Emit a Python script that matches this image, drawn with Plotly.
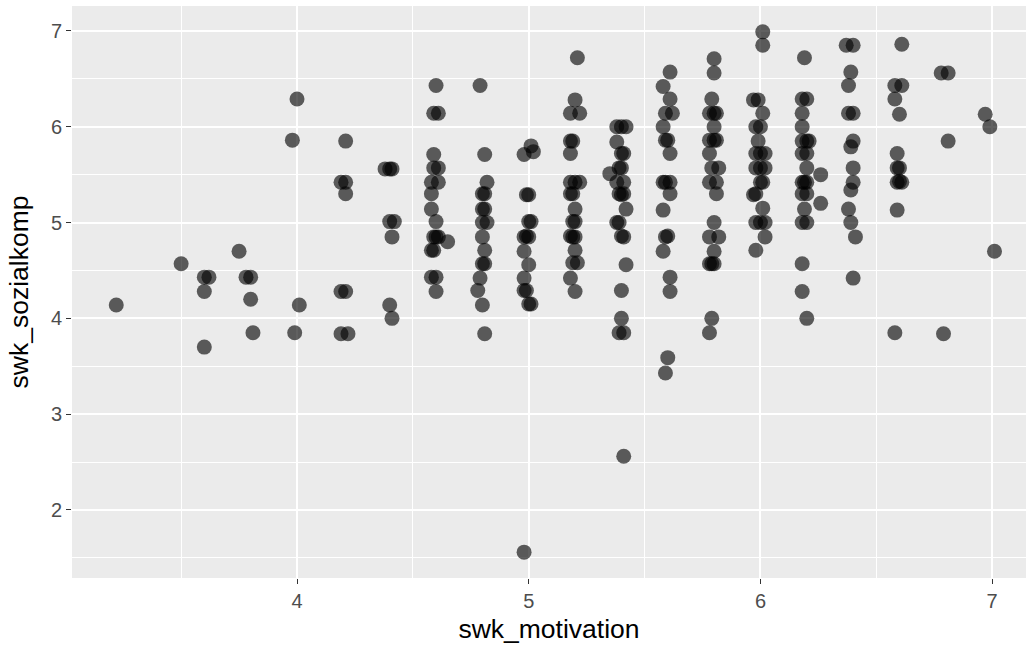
import plotly.graph_objects as go

# swk_motivation (jittered) values
motivation = [
    3.22, 3.50, 3.75, 3.60, 3.62, 3.78, 3.80, 3.60, 3.80, 3.81, 3.60,
    4.00, 3.98, 4.01, 3.99,
    4.21, 4.19, 4.21, 4.21, 4.19, 4.21, 4.19, 4.22,
    4.38, 4.40, 4.41, 4.40, 4.42, 4.41, 4.40, 4.41,
    4.60, 4.59, 4.61, 4.59, 4.59, 4.61, 4.58, 4.61, 4.58, 4.58, 4.60, 4.59, 4.61, 4.60,
    4.65, 4.58, 4.59, 4.58, 4.60, 4.60,
    4.79, 4.81, 4.82, 4.80, 4.81, 4.80, 4.81, 4.80, 4.82, 4.80, 4.81, 4.80, 4.81, 4.79,
    4.78, 4.80, 4.81,
    4.98, 5.01, 5.02, 4.99, 5.00, 5.00, 5.01, 4.98, 4.99, 5.00, 4.98, 5.00, 4.98, 4.98,
    4.99, 5.00, 5.01, 4.98,
    5.21, 5.20, 5.18, 5.22, 5.18, 5.19, 5.18, 5.18, 5.20, 5.22, 5.19, 5.18, 5.20, 5.19,
    5.20, 5.19, 5.18, 5.20, 5.20, 5.19, 5.21, 5.18, 5.20,
    5.38, 5.40, 5.42, 5.38, 5.40, 5.41, 5.39, 5.40, 5.35, 5.38, 5.41, 5.39, 5.40, 5.41,
    5.42, 5.38, 5.39, 5.41, 5.40, 5.42, 5.40, 5.40, 5.39, 5.41, 5.41,
    5.61, 5.58, 5.61, 5.59, 5.62, 5.58, 5.59, 5.60, 5.61, 5.58, 5.59, 5.61, 5.61, 5.58,
    5.59, 5.60, 5.58, 5.61, 5.61, 5.60, 5.59,
    5.80, 5.80, 5.79, 5.78, 5.80, 5.81, 5.80, 5.78, 5.80, 5.81, 5.78, 5.79, 5.82, 5.78,
    5.81, 5.81, 5.80, 5.78, 5.82, 5.80, 5.78, 5.79, 5.80, 5.79, 5.78,
    6.01, 6.01, 5.97, 5.99, 6.01, 5.98, 6.00, 5.99, 5.98, 6.00, 6.02, 5.98, 6.00, 6.02,
    6.00, 6.01, 5.97, 5.98, 6.01, 5.98, 6.00, 6.02, 6.02, 5.98,
    6.19, 6.18, 6.20, 6.18, 6.18, 6.18, 6.20, 6.21, 6.18, 6.20, 6.20, 6.26, 6.18, 6.19,
    6.20, 6.18, 6.20, 6.26, 6.19, 6.18, 6.20, 6.18, 6.18, 6.20,
    6.37, 6.40, 6.39, 6.38, 6.38, 6.40, 6.40, 6.39, 6.40, 6.40, 6.39, 6.38, 6.39, 6.41, 6.40,
    6.61, 6.58, 6.61, 6.58, 6.60, 6.59, 6.59, 6.60, 6.59, 6.61, 6.60, 6.59, 6.58,
    6.78, 6.81, 6.81, 6.79,
    6.97, 6.99, 7.01,
]

# swk_sozialkomp (jittered) values
sozialkomp = [
    4.14, 4.57, 4.70, 4.43, 4.43, 4.43, 4.43, 4.28, 4.20, 3.85, 3.70,
    6.29, 5.86, 4.14, 3.85,
    5.85, 5.42, 5.42, 5.30, 4.28, 4.28, 3.84, 3.84,
    5.56, 5.56, 5.56, 5.01, 5.01, 4.85, 4.14, 4.00,
    6.43, 6.14, 6.14, 5.71, 5.57, 5.57, 5.42, 5.42, 5.30, 5.14, 5.01, 4.85, 4.85, 4.85,
    4.80, 4.71, 4.71, 4.43, 4.43, 4.28,
    6.43, 5.71, 5.42, 5.30, 5.30, 5.14, 5.14, 5.00, 5.00, 4.85, 4.71, 4.57, 4.57, 4.42,
    4.29, 4.14, 3.84,
    5.71, 5.80, 5.74, 5.29, 5.29, 5.01, 5.01, 4.85, 4.86, 4.85, 4.70, 4.56, 4.42, 4.29,
    4.29, 4.15, 4.15, 1.56,
    6.72, 6.28, 6.14, 6.14, 5.85, 5.85, 5.72, 5.42, 5.42, 5.42, 5.30, 5.30, 5.14, 5.01,
    5.01, 4.85, 4.86, 4.85, 4.71, 4.58, 4.58, 4.42, 4.28,
    6.00, 6.00, 6.00, 5.84, 5.72, 5.72, 5.57, 5.57, 5.51, 5.42, 5.42, 5.30, 5.29, 5.30,
    5.14, 5.00, 5.00, 4.85, 4.86, 4.56, 4.29, 4.00, 3.85, 3.85, 2.56,
    6.57, 6.42, 6.29, 6.14, 6.14, 6.00, 5.86, 5.86, 5.72, 5.42, 5.42, 5.42, 5.30, 5.13,
    4.85, 4.86, 4.70, 4.43, 4.28, 3.59, 3.43,
    6.71, 6.56, 6.29, 6.14, 6.14, 6.14, 6.00, 5.86, 5.86, 5.86, 5.72, 5.57, 5.57, 5.42,
    5.42, 5.30, 5.00, 4.85, 4.85, 4.70, 4.57, 4.57, 4.57, 4.00, 3.85,
    6.99, 6.85, 6.28, 6.28, 6.14, 6.00, 6.00, 5.85, 5.72, 5.72, 5.72, 5.57, 5.57, 5.57,
    5.42, 5.42, 5.29, 5.30, 5.15, 5.00, 5.00, 5.00, 4.85, 4.71,
    6.72, 6.29, 6.29, 6.14, 6.00, 5.85, 5.85, 5.85, 5.72, 5.72, 5.57, 5.50, 5.42, 5.42,
    5.42, 5.30, 5.30, 5.20, 5.14, 5.00, 5.00, 4.57, 4.28, 4.00,
    6.85, 6.85, 6.57, 6.43, 6.14, 6.14, 5.85, 5.79, 5.57, 5.42, 5.34, 5.14, 5.00, 4.85, 4.42,
    6.86, 6.43, 6.43, 6.29, 6.13, 5.72, 5.57, 5.57, 5.42, 5.42, 5.43, 5.13, 3.85,
    6.56, 6.56, 5.85, 3.84,
    6.13, 6.00, 4.70,
]

x_ticks = [4, 5, 6, 7]
y_ticks = [2, 3, 4, 5, 6, 7]

FONT = "Liberation Sans, Arial, sans-serif"

fig = go.Figure()
fig.add_trace(go.Scatter(
    x=motivation,
    y=sozialkomp,
    mode="markers",
    marker=dict(size=15, color="rgba(0,0,0,0.62)", line=dict(width=0)),
    hoverinfo="x+y",
))

axis_common = dict(
    showgrid=True,
    gridcolor="white",
    gridwidth=2,
    zeroline=False,
    showline=False,
    ticks="outside",
    ticklen=5,
    tickwidth=1.1,
    tickcolor="#333333",
    tickfont=dict(family=FONT, size=20, color="#4D4D4D"),
    minor=dict(showgrid=True, gridcolor="white", gridwidth=1, dtick=0.5, ticks=""),
)

fig.update_layout(
    width=1032,
    height=650,
    margin=dict(l=72, r=6, t=6, b=72),
    paper_bgcolor="white",
    plot_bgcolor="#EBEBEB",
    showlegend=False,
    xaxis=dict(
        range=[3.029, 7.146],
        tickvals=x_ticks,
        ticktext=[str(v) for v in x_ticks],
        title=dict(text="swk_motivation", standoff=8,
                   font=dict(family=FONT, size=26.5, color="black")),
        **axis_common,
    ),
    yaxis=dict(
        range=[1.29, 7.26],
        tickvals=y_ticks,
        ticktext=[str(v) for v in y_ticks],
        title=dict(text="swk_sozialkomp", standoff=14,
                   font=dict(family=FONT, size=26.5, color="black")),
        **axis_common,
    ),
)

fig.write_html("out.html")
